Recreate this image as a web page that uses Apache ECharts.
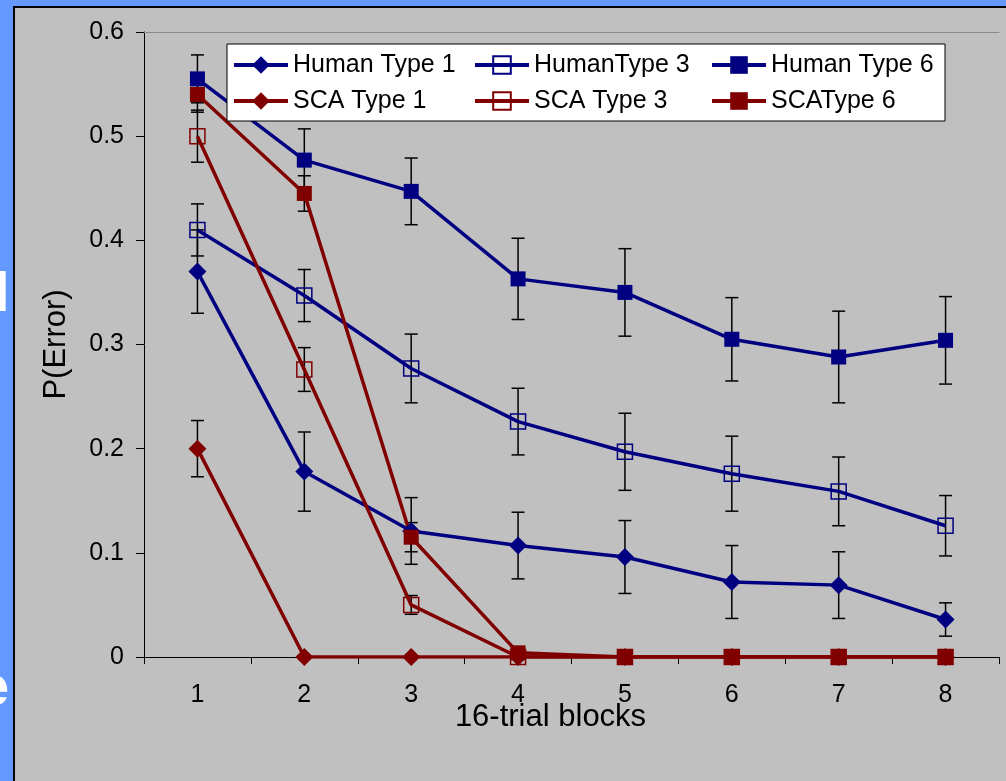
<!DOCTYPE html>
<html>
<head>
<meta charset="utf-8">
<script src="https://cdn.jsdelivr.net/npm/echarts@6/dist/echarts.min.js"></script>
<style>
  html, body { margin: 0; padding: 0; width: 1006px; height: 781px; overflow: hidden; background: #6699FF; position: relative; }
  .slide { position: absolute; color: #fff; font: bold 56px "Liberation Sans", Arial, sans-serif; line-height: 56px; }
  #panel { position: absolute; left: 13px; top: 6px; width: 1000px; height: 800px; background: #C0C0C0; border-left: 2px solid #000; border-top: 2px solid #000; }
  #chart { position: absolute; left: 0; top: 0; width: 1006px; height: 781px; }
</style>
</head>
<body>
<span class="slide" style="left:-6px; top:264px;">l</span>
<span class="slide" style="left:-22px; top:658px;">e</span>
<div id="panel"></div>
<div id="chart"></div>
<script>
// ---- data ----
const categories = ['1', '2', '3', '4', '5', '6', '7', '8'];

const humanType1 = [0.370, 0.178, 0.121, 0.107, 0.096, 0.072, 0.069, 0.036];
const humanType1Err = [0.040, 0.038, 0.032, 0.032, 0.035, 0.035, 0.032, 0.016];

const humanType3 = [0.410, 0.347, 0.277, 0.226, 0.197, 0.176, 0.159, 0.126];
const humanType3Err = [0.025, 0.025, 0.033, 0.032, 0.037, 0.036, 0.033, 0.029];

const humanType6 = [0.555, 0.477, 0.447, 0.363, 0.350, 0.305, 0.288, 0.304];
const humanType6Err = [0.023, 0.030, 0.032, 0.039, 0.042, 0.040, 0.044, 0.042];

const scaType1 = [0.200, 0.000, 0.000, 0.000, 0.000, 0.000, 0.000, 0.000];
const scaType1Err = [0.027, 0, 0, 0, 0, 0, 0, 0];

const scaType3 = [0.500, 0.276, 0.050, 0.000, 0.000, 0.000, 0.000, 0.000];
const scaType3Err = [0.025, 0.021, 0.009, 0, 0, 0, 0, 0];

const scaType6 = [0.540, 0.445, 0.115, 0.004, 0.000, 0.000, 0.000, 0.000];
const scaType6Err = [0.017, 0.017, 0.014, 0, 0, 0, 0, 0];

const yTicks = { min: 0, max: 0.6, interval: 0.1 };
// ---------------

const NAVY = '#000080';
const RED = '#800000';
const FONT = '"Liberation Sans", Arial, sans-serif';

function errData(vals, errs) {
  return vals.map((v, i) => [i, v - errs[i], v + errs[i]]).filter((d, i) => errs[i] > 0);
}

function errSeries(vals, errs) {
  return {
    type: 'custom',
    z: 1,
    silent: true,
    encode: { x: 0, y: [1, 2] },
    data: errData(vals, errs),
    renderItem: function (params, api) {
      const x = api.value(0);
      const lo = api.coord([x, api.value(1)]);
      const hi = api.coord([x, api.value(2)]);
      const w = 6.5;
      const st = { stroke: '#000', lineWidth: 1.5 };
      return {
        type: 'group',
        children: [
          { type: 'line', shape: { x1: lo[0], y1: lo[1], x2: hi[0], y2: hi[1] }, style: st },
          { type: 'line', shape: { x1: lo[0] - w, y1: lo[1], x2: lo[0] + w, y2: lo[1] }, style: st },
          { type: 'line', shape: { x1: hi[0] - w, y1: hi[1], x2: hi[0] + w, y2: hi[1] }, style: st }
        ]
      };
    }
  };
}

function lineSeries(name, vals, color, symbol, open) {
  return {
    name: name,
    type: 'line',
    z: 3,
    data: vals,
    symbol: symbol,
    symbolSize: symbol === 'diamond' ? 18 : 15,
    showAllSymbol: true,
    lineStyle: { color: color, width: 3.5 },
    itemStyle: open
      ? { color: 'rgba(0,0,0,0)', borderColor: color, borderWidth: 1.5 }
      : { color: color, borderWidth: 0 },
    emphasis: { disabled: true },
    animation: false
  };
}

const legendText = { fontFamily: FONT, fontSize: 25, color: '#000', lineHeight: 26 };
function legendCol(left, names) {
  return {
    data: names,
    orient: 'vertical',
    left: left,
    top: 52,
    padding: 0,
    itemGap: 10,
    itemWidth: 54,
    itemHeight: 22,
    selectedMode: false,
    z: 20,
    lineStyle: { width: 4 },
    textStyle: legendText
  };
}

const chart = echarts.init(document.getElementById('chart'), null, { renderer: 'canvas' });
chart.setOption({
  animation: false,
  backgroundColor: 'transparent',
  grid: { left: 144, right: 7, top: 32, bottom: 124 },
  graphic: [{
    type: 'rect',
    z: 10,
    shape: { x: 227, y: 44, width: 718, height: 77 },
    style: { fill: '#fff', stroke: '#000', lineWidth: 1 }
  }],
  legend: [
    legendCol(232, ['Human Type 1', 'SCA Type 1']),
    legendCol(473, ['HumanType 3', 'SCA Type 3']),
    legendCol(710, ['Human Type 6', 'SCAType 6'])
  ],
  xAxis: [{
    type: 'category',
    data: categories,
    boundaryGap: true,
    name: '16-trial blocks',
    nameLocation: 'middle',
    nameGap: 45,
    nameMoveOverlap: false,
    nameTextStyle: { fontFamily: FONT, fontSize: 31, color: '#000', padding: [0, 42, 0, 0] },
    axisLine: { lineStyle: { color: '#000', width: 1 } },
    axisTick: { show: true, length: 7, lineStyle: { color: '#000', width: 1 } },
    axisLabel: { fontFamily: FONT, fontSize: 25, color: '#000', margin: 26 },
    splitLine: { show: false }
  }, {
    type: 'category',
    data: categories,
    position: 'top',
    axisLine: { lineStyle: { color: '#8a8a8a', width: 1 } },
    axisTick: { show: false },
    axisLabel: { show: false },
    splitLine: { show: false }
  }],
  yAxis: {
    type: 'value',
    min: yTicks.min,
    max: yTicks.max,
    interval: yTicks.interval,
    name: 'P(Error)',
    nameLocation: 'middle',
    nameGap: 72,
    nameMoveOverlap: false,
    nameTextStyle: { fontFamily: FONT, fontSize: 31, color: '#000' },
    axisLine: { show: true, lineStyle: { color: '#000', width: 1 } },
    axisTick: { show: true, length: 8, lineStyle: { color: '#000', width: 1 } },
    axisLabel: { fontFamily: FONT, fontSize: 25, color: '#000', margin: 20 },
    splitLine: { show: false }
  },
  series: [
    errSeries(humanType1, humanType1Err),
    errSeries(humanType3, humanType3Err),
    errSeries(humanType6, humanType6Err),
    errSeries(scaType1, scaType1Err),
    errSeries(scaType3, scaType3Err),
    errSeries(scaType6, scaType6Err),
    lineSeries('Human Type 1', humanType1, NAVY, 'diamond', false),
    lineSeries('HumanType 3', humanType3, NAVY, 'rect', true),
    lineSeries('Human Type 6', humanType6, NAVY, 'rect', false),
    lineSeries('SCA Type 1', scaType1, RED, 'diamond', false),
    lineSeries('SCA Type 3', scaType3, RED, 'rect', true),
    lineSeries('SCAType 6', scaType6, RED, 'rect', false)
  ]
});
</script>
</body>
</html>
